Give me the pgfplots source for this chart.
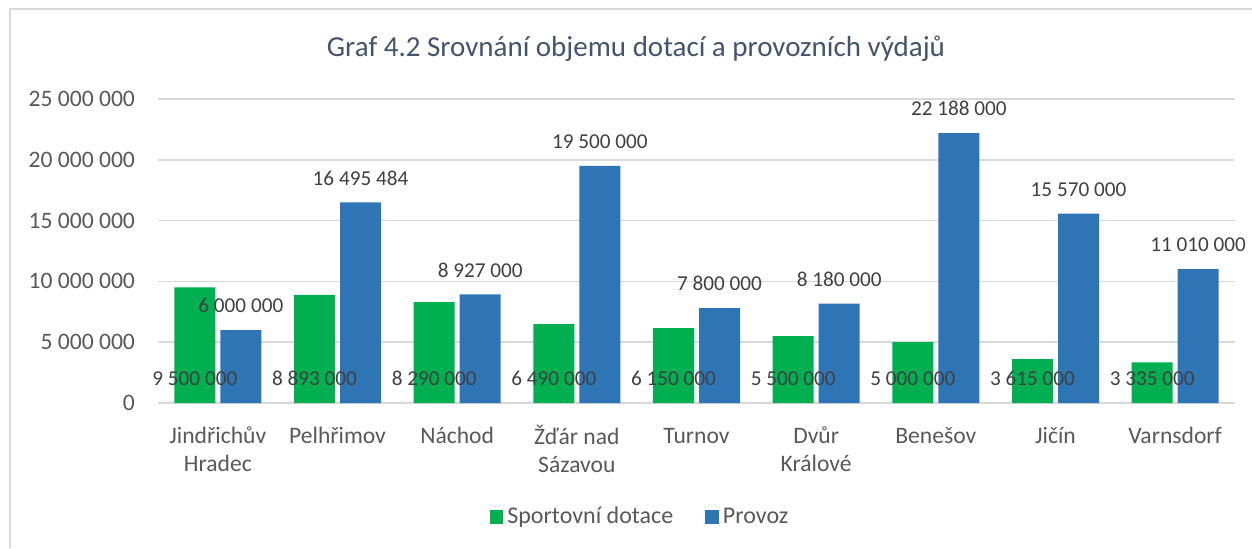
\documentclass[border=0pt]{standalone}
\usepackage{pgfplots}
\pgfplotsset{compat=1.18}
\usepackage{fontspec}
\setmainfont{Carlito}
\definecolor{cgreen}{HTML}{00B050}
\definecolor{cblue}{HTML}{2E75B6}
\definecolor{ctext}{HTML}{595959}
\definecolor{clabel}{HTML}{404040}
\definecolor{ctitle}{HTML}{44546A}
\definecolor{cgrid}{HTML}{D9D9D9}
\newcommand\vp{\rule{0pt}{9pt}}
\begin{document}
\begin{tikzpicture}
\useasboundingbox (0,0) rectangle (626pt,274pt);
\draw[cgrid, line width=0.75pt] (5pt,0) -- (5pt,269.5pt) -- (626pt,269.5pt);
\node[ctitle, font=\fontsize{14.5}{16}\selectfont] at (318pt,249.8pt) {Graf 4.2 Srovnání objemu dotací a provozních výdajů};
\begin{axis}[
  at={(79pt,72.5pt)}, anchor=south west,
  scale only axis, width=538.5pt, height=152pt,
  xmin=-0.5, xmax=8.5, ymin=0, ymax=25000000,
  clip=false,
  xtick={0,1,2,3,4,5,6,7,8},
  xticklabels={{\vp Jindřichův\\Hradec},{\vp Pelhřimov},{\vp Náchod},{\vp Žďár nad\\Sázavou},{\vp Turnov},{\vp Dvůr\\Králové},{\vp Benešov},{\vp Jičín},{\vp Varnsdorf}},
  ytick={0,5000000,10000000,15000000,20000000,25000000},
  yticklabels={0,5 000 000,10 000 000,15 000 000,20 000 000,25 000 000},
  scaled y ticks=false,
  ymajorgrids, major grid style={cgrid, line width=0.75pt},
  axis line style={draw=none},
  major tick length=0pt,
  tick label style={text=ctext, font=\fontsize{11.8}{14}\selectfont},
  xticklabel style={align=center, anchor=north, yshift=-7.5pt},
  yticklabel style={xshift=-8pt},
  every node near coord/.append style={text=clabel, font=\fontsize{10.6}{12}\selectfont, anchor=center, yshift=12.2pt},
  legend style={at={(0.4485,-0.375)}, anchor=center, draw=none, legend columns=2, font=\fontsize{12}{14}\selectfont, text=ctext, /tikz/every even column/.append style={column sep=14pt}},
  legend image code/.code={\fill[#1] (0pt,-3.4pt) rectangle (6.8pt,3.4pt);},
]
\addplot[ybar, bar width=20.5pt, bar shift=-11.5pt, fill=cgreen, draw=none] coordinates {
(0,9500000) (1,8893000) (2,8290000) (3,6490000) (4,6150000) (5,5500000) (6,5000000) (7,3615000) (8,3335000)};
\addlegendentry{Sportovní dotace}
\addplot[ybar, bar width=20.5pt, bar shift=11.5pt, fill=cblue, draw=none, nodes near coords, point meta=explicit symbolic, every node near coord/.append style={xshift=11.5pt}] coordinates {
(0,6000000) [6 000 000] (1,16495484) [16 495 484] (2,8927000) [8 927 000] (3,19500000) [19 500 000] (4,7800000) [7 800 000] (5,8180000) [8 180 000] (6,22188000) [22 188 000] (7,15570000) [15 570 000] (8,11010000) [11 010 000]};
\addlegendentry{Provoz}
\addplot[draw=none, mark=none, forget plot, nodes near coords, point meta=explicit symbolic, every node near coord/.append style={xshift=-11.5pt}] coordinates {
(0,0) [9 500 000] (1,0) [8 893 000] (2,0) [8 290 000] (3,0) [6 490 000] (4,0) [6 150 000] (5,0) [5 500 000] (6,0) [5 000 000] (7,0) [3 615 000] (8,0) [3 335 000]};
\end{axis}
\end{tikzpicture}
\end{document}
